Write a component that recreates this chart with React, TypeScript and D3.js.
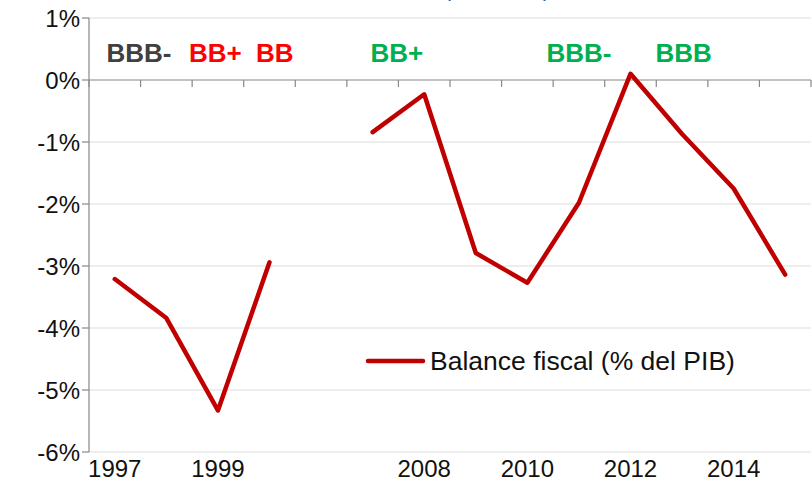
import * as d3 from "d3";

const W = 812, H = 492;
const mg = { l: 89, r: 1, t: 18, b: 40 };

// categories (one empty slot between 2000 and 2007)
const CATS = ["1997", "1998", "1999", "2000", "", "2007", "2008", "2009", "2010", "2011", "2012", "2013", "2014", "2015"];
const VALUES: (number | null)[] = [-3.21, -3.84, -5.33, -2.94, null, -0.84, -0.23, -2.79, -3.27, -1.98, 0.1, -0.87, -1.75, -3.14];
const Y_TICKS = [1, 0, -1, -2, -3, -4, -5, -6];
const X_LABELS = ["1997", "1999", "2008", "2010", "2012", "2014"];

const RATING_YEARS = ["1997", "1999", "2000", "2007", "2011", "2013"];
const RATING_TEXT = ["BBB-", "BB+", "BB", "BB+", "BBB-", "BBB"];
const RATING_COLOR = ["#404040", "#FF0000", "#FF0000", "#00B050", "#00B050", "#00B050"];
const RATING_DX = [0.47, -0.05, 0.1, 0.47, 0, 0.03]; // in band widths

const FONT = "'Liberation Sans', Arial, sans-serif";

export default function App() {
  const x = d3.scaleBand<string>().domain(CATS.map((c, i) => c || `gap${i}`)).range([mg.l, W - mg.r]).padding(0);
  const key = (i: number) => CATS[i] || `gap${i}`;
  const cx = (i: number) => (x(key(i)) ?? 0) + x.bandwidth() / 2;
  const y = d3.scaleLinear().domain([-6, 1]).range([H - mg.b, mg.t]);

  const line = d3.line<number | null>()
    .defined(d => d != null)
    .x((_, i) => cx(i))
    .y(d => y(d as number));

  const boundaries = CATS.map((_, i) => x(key(i)) as number).concat([W - mg.r]);

  return (
    <svg width={W} height={H} style={{ position: "absolute", left: 0, top: 0, background: "white" }} fontFamily={FONT}>
      {/* title, mostly above the visible area as in the source */}
      <text x={497} y={-3} textAnchor="middle" fontSize={21} fill="#2E5EAA">(% del PIB)</text>

      {/* grid */}
      {Y_TICKS.filter(v => v !== 0).map(v => (
        <line key={v} x1={mg.l} x2={W - mg.r} y1={y(v)} y2={y(v)} stroke="#DDDDDD" strokeWidth={1} />
      ))}

      {/* y axis */}
      <line x1={mg.l} x2={mg.l} y1={y(1)} y2={y(-6)} stroke="#888" strokeWidth={1.2} />
      {Y_TICKS.map(v => (
        <g key={v}>
          <line x1={mg.l - 7} x2={mg.l} y1={y(v)} y2={y(v)} stroke="#888" strokeWidth={1.2} />
          <text x={80} y={y(v) + 8.5} textAnchor="end" fontSize={24} fill="#111">{`${v}%`}</text>
        </g>
      ))}

      {/* x axis at 0 */}
      <line x1={mg.l} x2={W - mg.r} y1={y(0)} y2={y(0)} stroke="#888" strokeWidth={1.2} />
      {boundaries.map((b, i) => (
        <line key={i} x1={b} x2={b} y1={y(0)} y2={y(0) + 7} stroke="#888" strokeWidth={1.2} />
      ))}
      {X_LABELS.map(lbl => (
        <text key={lbl} x={(x(lbl) ?? 0) + x.bandwidth() / 2} y={477} textAnchor="middle" fontSize={24} fill="#111">{lbl}</text>
      ))}

      {/* ratings */}
      {RATING_TEXT.map((t, i) => {
        const idx = CATS.indexOf(RATING_YEARS[i]);
        return (
          <text key={i} x={cx(idx) + RATING_DX[i] * x.bandwidth()} y={62} textAnchor="middle"
            fontSize={26} fontWeight="bold" fill={RATING_COLOR[i]}>{t}</text>
        );
      })}

      {/* series */}
      <path d={line(VALUES) ?? ""} fill="none" stroke="#C00000" strokeWidth={4.5} strokeLinejoin="round" strokeLinecap="round" />

      {/* legend */}
      <line x1={368} x2={423} y1={361} y2={361} stroke="#C00000" strokeWidth={4.5} strokeLinecap="round" />
      <text x={430} y={370} fontSize={26.5} fill="#111">Balance fiscal (% del PIB)</text>
    </svg>
  );
}
